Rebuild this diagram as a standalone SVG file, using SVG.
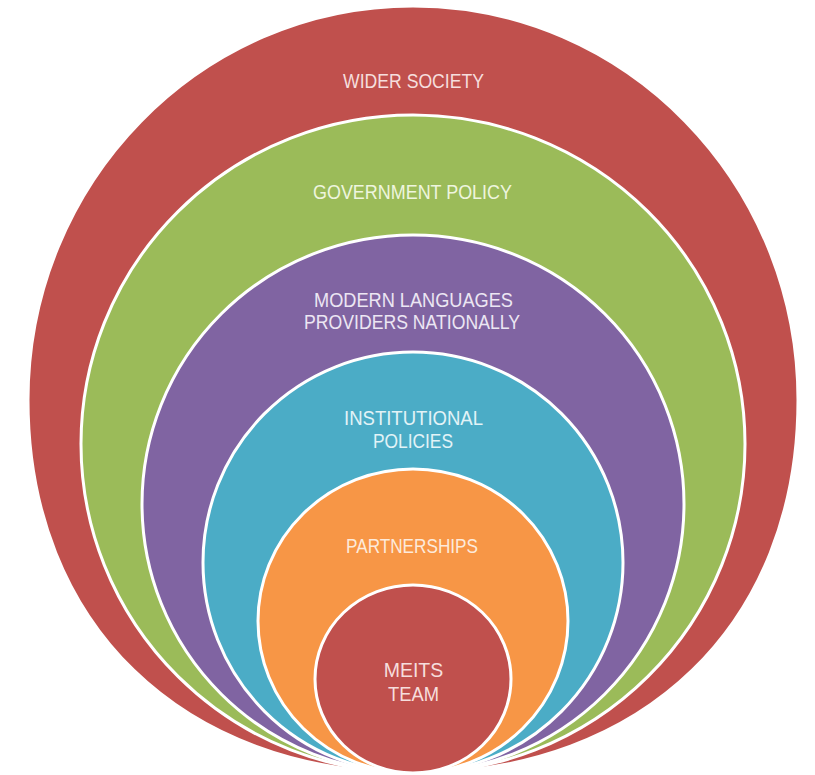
<svg xmlns="http://www.w3.org/2000/svg" width="815" height="775" viewBox="0 0 815 775">
  <style>
    .ring { stroke: #ffffff; stroke-width: 3; }
    .lbl { font-family: "Liberation Sans", Arial, sans-serif; font-size: 19.5px; text-anchor: middle; }
    .red { fill: #C0504D; }
    .green { fill: #9BBB59; }
    .purple { fill: #8064A2; }
    .blue { fill: #4BACC6; }
    .orange { fill: #F79646; }
  </style>
  <rect width="815" height="775" fill="#ffffff"/>

  <!-- nested rings, all touching at the bottom -->
  <g id="wider-society">
    <!-- outer ring is fuller in its lower half than a plain ellipse -->
    <path class="ring red" d="M413,773 C182,773 28,623.8 28,400 C28,182.4 200.4,6 413,6 C625.6,6 798,182.4 798,400 C798,623.8 644,773 413,773 Z"/>
    <text class="lbl" x="413.5" y="88" fill="#f6dedd" textLength="141" lengthAdjust="spacingAndGlyphs">WIDER SOCIETY</text>
  </g>
  <g id="government-policy">
    <ellipse class="ring green" cx="413" cy="444" rx="332" ry="329"/>
    <text class="lbl" x="412.5" y="199" fill="#eef5de" textLength="199" lengthAdjust="spacingAndGlyphs">GOVERNMENT POLICY</text>
  </g>
  <g id="language-providers">
    <ellipse class="ring purple" cx="413" cy="504" rx="271" ry="269"/>
    <text class="lbl" x="413.5" y="307" fill="#ece6f3" textLength="199" lengthAdjust="spacingAndGlyphs">MODERN LANGUAGES</text>
    <text class="lbl" x="412" y="329" fill="#ece6f3" textLength="216" lengthAdjust="spacingAndGlyphs">PROVIDERS NATIONALLY</text>
  </g>
  <g id="institutional-policies">
    <ellipse class="ring blue" cx="413" cy="562.5" rx="210" ry="210.5"/>
    <text class="lbl" x="413.5" y="425" fill="#e2f3f7" textLength="139" lengthAdjust="spacingAndGlyphs">INSTITUTIONAL</text>
    <text class="lbl" x="413" y="448" fill="#e2f3f7" textLength="80" lengthAdjust="spacingAndGlyphs">POLICIES</text>
  </g>
  <g id="partnerships">
    <ellipse class="ring orange" cx="413" cy="621" rx="155" ry="152"/>
    <text class="lbl" x="412" y="553" fill="#fdeadb" textLength="132" lengthAdjust="spacingAndGlyphs">PARTNERSHIPS</text>
  </g>
  <g id="meits-team">
    <ellipse class="ring red" cx="413" cy="679" rx="98" ry="94"/>
    <text class="lbl" x="413.5" y="677" fill="#f6dedd">MEITS</text>
    <text class="lbl" x="413.5" y="701" fill="#f6dedd" textLength="51" lengthAdjust="spacingAndGlyphs">TEAM</text>
  </g>

  <!-- no connectors in this diagram -->
  <g id="connectors"/>
</svg>
